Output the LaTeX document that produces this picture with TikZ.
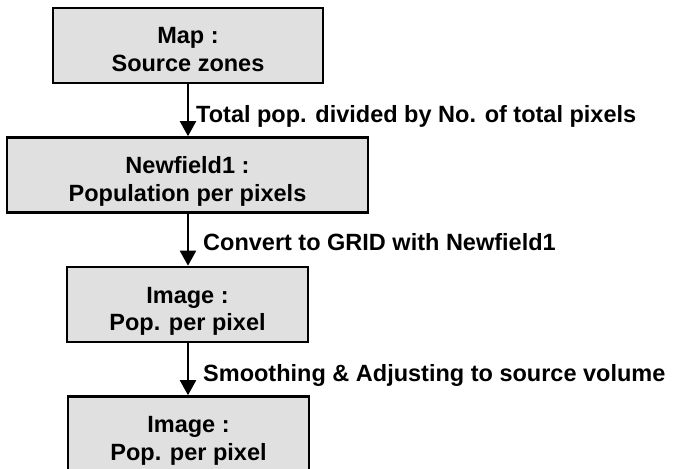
\documentclass[tikz,border=0pt]{standalone}
\usepackage{fontspec}
\setmainfont{Liberation Sans}
\usetikzlibrary{arrows.meta}

% two-line box text: a tall invisible rule on top, a deep one below
\newcommand{\boxlines}[2]{\rule{0pt}{30.5pt}#1\\#2\rule[-6pt]{0pt}{6pt}}

\begin{document}
\begin{tikzpicture}[x=1pt,y=-1pt,
  stage/.style={draw=black, line width=2.6pt, fill=black!12,
    minimum height=75pt, inner sep=0pt, align=center,
    font=\fontsize{23.5}{27.5}\selectfont\bfseries},
  steplabel/.style={anchor=base west, inner sep=0pt,
    font=\fontsize{23.5}{27.5}\selectfont\bfseries},
  flow/.style={line width=2pt, -{Triangle[width=16pt,length=15pt]}}]

\useasboundingbox (0,0) rectangle (676,468);
\clip (0,0) rectangle (676,468);

% processing stages
\node[stage, minimum width=270pt] (map) at (188,45.5)
  {\boxlines{Map :}{Source zones}};
\node[stage, minimum width=361pt] (nf) at (187.5,175)
  {\boxlines{Newfield1 :}{Population per pixels}};
\node[stage, minimum width=241pt] (img1) at (187.5,304.5)
  {\boxlines{Image :}{Pop. per pixel}};
\node[stage, minimum width=241pt] (img2) at (188.5,434)
  {\boxlines{Image :}{Pop. per pixel}};

% operations between stages
\draw[flow] (map.south) -- (map.south |- nf.north);
\draw[flow] (nf.south -| map.south) -- (map.south |- img1.north);
\draw[flow] (img1.south -| map.south) -- (map.south |- img2.north);

\node[steplabel] (op1) at (196,122) {Total pop. divided by No. of total pixels};
\node[steplabel] (op2) at (203,250) {Convert to GRID with Newfield1};
\node[steplabel] (op3) at (203,381) {Smoothing \& Adjusting to source volume};
\end{tikzpicture}
\end{document}
